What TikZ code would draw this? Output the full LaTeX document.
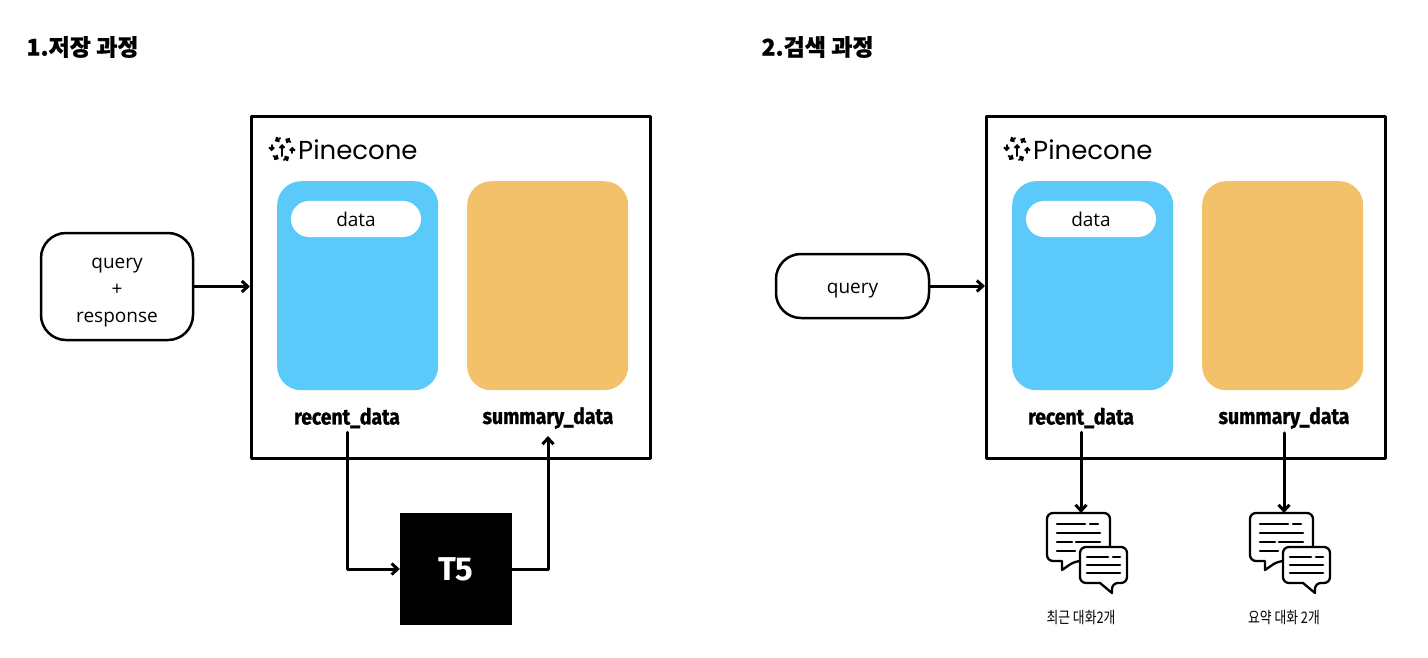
\documentclass[tikz,border=0pt]{standalone}
\usepackage{fontspec}
\setmainfont{Open Sans}
\newfontfamily\krfont[BoldFeatures={FakeBold=0.8}]{Noto Sans CJK KR}
\newfontfamily\krcond[FakeStretch=0.8]{Noto Sans CJK KR}
\newfontfamily\labelfont[FakeStretch=0.88,BoldFeatures={FakeBold=1.2}]{Fira Sans}
\newfontfamily\tfivefont{Fira Sans}
\newfontfamily\logofont{Poppins}
\usetikzlibrary{positioning,arrows.meta}
\definecolor{recentblue}{HTML}{5BC9FA}
\definecolor{summaryorange}{HTML}{F4C16B}
\tikzset{
	frame/.style={draw,line width=3pt,minimum width=399pt,minimum height=342pt,anchor=north west},
	store/.style={rounded corners=24pt,minimum width=161pt,minimum height=209pt,anchor=north west},
	pill/.style={fill=white,rounded corners=18pt,minimum width=130pt,minimum height=36pt,text height=19pt,text depth=3.4pt,font=\fontsize{19}{24}\selectfont},
	inbox/.style={draw,line width=2.5pt,rounded corners=25pt,align=center,font=\fontsize{19}{27}\selectfont},
	dblabel/.style={font=\labelfont\bfseries\fontsize{22}{24}\selectfont,inner sep=2pt},
	title/.style={font=\krfont\bfseries\fontsize{23}{26}\selectfont,anchor=west},
	chatlabel/.style={font=\krcond\fontsize{16}{18}\selectfont},
	link/.style={->,line width=3pt},
	pinelogo/.pic={
		\foreach \a in {20,80,...,320}
			\draw[line width=2pt,-{Straight Barb[length=2.5pt,width=5pt]}] (\a:11) -- ++(\a-110:6);
		\draw[line width=2pt,-{Straight Barb[length=2.5pt,width=5pt]}] (0,7) -- (0,-5);
	},
	chat/.pic={
		% back bubble
		\draw[line width=2.3pt,fill=white,rounded corners=6pt] (0,0) -- (63,0) -- (63,48) -- (28,48)
			[sharp corners] -- (15,57) -- (15,48) [rounded corners=6pt] -- (0,48) -- cycle;
		\draw[line width=2.5pt] (10,11) -- (38,11) (43,11) -- (51,11) (10,20) -- (53,20)
			(10,29) -- (25,29) (29,29) -- (53,29) (10,38) -- (28,38);
		% front bubble
		\draw[line width=2.3pt,fill=white,rounded corners=6pt] (33,34) -- (80,34) -- (80,70) -- (65,70)
			[sharp corners] -- (65,80) -- (53,70) [rounded corners=6pt] -- (33,70) -- cycle;
		\draw[line width=2.5pt] (40,44) -- (61,44) (66,44) -- (73,44) (40,52) -- (73,52) (40,60) -- (73,60);
	}
}
\begin{document}
\begin{tikzpicture}[x=1pt,y=-1pt,line join=round,line cap=round,>={Straight Barb[length=6pt,width=11pt]}]
	\useasboundingbox (0,0) rectangle (1428,658);
	%% 1. storing
	\node[title] (title1) at (23,47) {1.저장 과정};
	\node[frame] (db1) at (250,115) {};
	\pic at (282,149) {pinelogo};
	\node[font=\logofont\fontsize{26}{30}\selectfont,anchor=west,inner sep=0pt] (brand1) at (298,150) {Pinecone};
	\node[store,fill=recentblue] (rec1) at (277,181) {};
	\node[store,fill=summaryorange] (sum1) at (467,181) {};
	\node[pill] (data1) at (356,219) {data};
	\node[dblabel] (rlab1) at (347,418) {recent\_data};
	\node[dblabel] (slab1) at (548,418) {summary\_data};
	\node[inbox,minimum width=152pt,minimum height=107pt] (qr1) at (117,286.5) {\rule{0pt}{26pt}query\\\strut +\\\strut response};
	\node[fill=black,minimum size=112pt,text=white,font=\tfivefont\bfseries\fontsize{33}{36}\selectfont] (t5) at (456,569) {T5};
	\draw[link] (qr1.east) -- (qr1.east -| db1.west);
	\draw[link] ([yshift=-2pt]rlab1.south) |- (t5.west);
	\draw[link] (t5.east) -| ([yshift=-5pt]slab1.south);
	%% 2. retrieval
	\node[title] (title2) at (758,47) {2.검색 과정};
	\node[frame] (db2) at (985,115) {};
	\pic at (1017,149) {pinelogo};
	\node[font=\logofont\fontsize{26}{30}\selectfont,anchor=west,inner sep=0pt] (brand2) at (1033,150) {Pinecone};
	\node[store,fill=recentblue] (rec2) at (1012,181) {};
	\node[store,fill=summaryorange] (sum2) at (1202,181) {};
	\node[pill] (data2) at (1091,219) {data};
	\node[dblabel] (rlab2) at (1081,418) {recent\_data};
	\node[dblabel] (slab2) at (1284,418) {summary\_data};
	\node[inbox,minimum width=153pt,minimum height=64pt,text height=19pt,text depth=3.4pt] (q2) at (852.5,286) {query};
	\draw[link] (q2.east) -- (q2.east -| db2.west);
	\pic at (1047,513) {chat};
	\pic at (1250,513) {chat};
	\coordinate (chat1) at (1081,513);
	\coordinate (chat2) at (1284,513);
	\draw[link] ([yshift=-2pt]rlab2.south) -- (chat1);
	\draw[link] ([yshift=-2pt]slab2.south) -- (chat2);
	\node[chatlabel] (clab1) at (1081,618) {최근 대화2개};
	\node[chatlabel] (clab2) at (1284,618) {요약 대화 2개};
\end{tikzpicture}
\end{document}
